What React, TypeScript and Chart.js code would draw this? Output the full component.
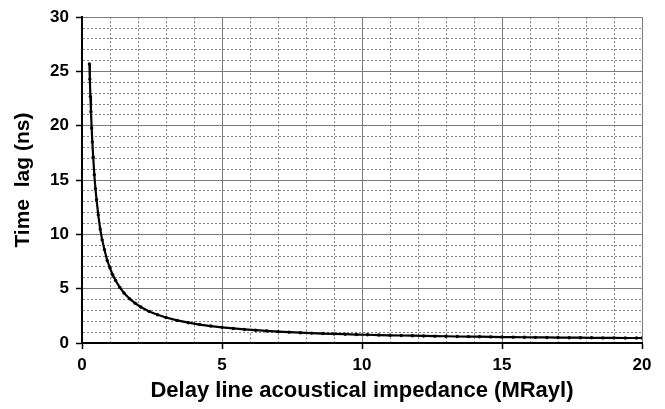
import React, { useEffect, useRef } from "react";
import { Chart, registerables } from "chart.js";

Chart.register(...registerables);

const impedance: number[] = [
  0.265, 0.28, 0.3, 0.32, 0.345, 0.37, 0.4, 0.44, 0.48, 0.52, 0.58, 0.65, 0.72, 0.8, 0.9,
  1.0, 1.1, 1.2, 1.35, 1.5, 1.7, 1.9, 2.1, 2.4, 2.7, 3.0, 3.4, 3.8, 4.2, 4.6, 5.0, 5.4,
  5.8, 6.2, 6.6, 7.0, 7.4, 7.8, 8.2, 8.6, 9.0, 9.4, 9.8, 10.2, 10.6, 11.0, 11.4, 11.8,
  12.2, 12.6, 13.0, 13.4, 13.8, 14.2, 14.6, 15.0, 15.4, 15.8, 16.2, 16.6, 17.0, 17.4,
  17.8, 18.2, 18.6, 19.0, 19.4, 19.8, 20.0,
];
const timeLag: number[] = [
  25.7, 24.3, 22.7, 21.3, 19.8, 18.5, 17.1, 15.5, 14.2, 13.2, 11.8, 10.5, 9.5, 8.6, 7.6,
  6.9, 6.26, 5.75, 5.12, 4.61, 4.08, 3.66, 3.32, 2.91, 2.6, 2.35, 2.08, 1.87, 1.7, 1.56,
  1.44, 1.34, 1.25, 1.18, 1.11, 1.05, 1.0, 0.95, 0.91, 0.87, 0.84, 0.81, 0.78, 0.76,
  0.73, 0.71, 0.69, 0.67, 0.65, 0.63, 0.62, 0.6, 0.59, 0.58, 0.56, 0.55, 0.54, 0.53,
  0.52, 0.51, 0.5, 0.49, 0.49, 0.48, 0.47, 0.47, 0.46, 0.46, 0.46,
];

const xTitle = "Delay line acoustical impedance (MRayl)";
const yTitle = "Time  lag (ns)";
const xMin = 0, xMax = 20, yMin = 0, yMax = 30;
const majorStep = 5;

const FONT = "'Liberation Sans', Arial, Helvetica, sans-serif";

export default function App() {
  const ref = useRef<HTMLCanvasElement | null>(null);
  useEffect(() => {
    document.body.style.margin = "0";
    const canvas = ref.current;
    if (!canvas) return;
    const isMajor = (v: number) => Math.abs(v / majorStep - Math.round(v / majorStep)) < 1e-6;
    const gridColor = (ctx: any) => (isMajor(ctx.tick?.value ?? 0) ? "#7a7a7a" : "#7f7f7f");
    const gridDash = (ctx: any) => (isMajor(ctx.tick?.value ?? 0) ? [] : [2, 2]);
    const tickColor = (ctx: any) => (isMajor(ctx.tick?.value ?? 0) ? "#000" : "rgba(0,0,0,0)");
    const chart = new Chart(canvas, {
      type: "line",
      data: {
        datasets: [
          {
            data: impedance.map((x, i) => ({ x, y: timeLag[i] })),
            borderColor: "#000",
            backgroundColor: "#000",
            borderWidth: 2.2,
            pointRadius: 1.7,
            pointBorderWidth: 0,
            pointBackgroundColor: "#000",
            tension: 0,
            fill: false,
          },
        ],
      },
      options: {
        animation: false,
        responsive: false,
        maintainAspectRatio: false,
        layout: { padding: { left: 0, top: 17, right: 23, bottom: 0 } },
        plugins: { legend: { display: false }, tooltip: { enabled: false } },
        scales: {
          x: {
            type: "linear",
            min: xMin,
            max: xMax,
            afterFit: (s: any) => {
              s.height = 66;
            },
            ticks: {
              stepSize: 1,
              autoSkip: false,
              maxRotation: 0,
              color: "#000",
              padding: 6,
              font: { family: FONT, size: 17, weight: "bold" },
              callback: (v: any) => (isMajor(Number(v)) ? String(v) : ""),
            },
            grid: {
              color: gridColor,
              lineWidth: 1,
              drawTicks: true,
              tickLength: 6,
              tickColor: tickColor,
              tickWidth: 1.5,
            },
            border: { display: true, color: "#000", width: 2, dash: gridDash },
            title: {
              display: true,
              text: xTitle,
              color: "#000",
              font: { family: FONT, size: 22, weight: "bold" },
              padding: { top: 5, bottom: 5 },
            },
          },
          y: {
            type: "linear",
            min: yMin,
            max: yMax,
            afterFit: (s: any) => {
              s.width = 82;
            },
            ticks: {
              stepSize: 1,
              autoSkip: false,
              color: "#000",
              padding: 7,
              font: { family: FONT, size: 17, weight: "bold" },
              callback: (v: any) => (isMajor(Number(v)) ? String(v) : ""),
            },
            grid: {
              color: gridColor,
              lineWidth: 1,
              drawTicks: true,
              tickLength: 6,
              tickColor: tickColor,
              tickWidth: 1.5,
            },
            border: { display: true, color: "#000", width: 2, dash: gridDash },
            title: {
              display: true,
              text: yTitle,
              color: "#000",
              font: { family: FONT, size: 21, weight: "bold" },
              padding: { top: 11, bottom: 11 },
            },
          },
        },
      },
    } as any);
    return () => chart.destroy();
  }, []);
  return (
    <div style={{ position: "relative", width: 665, height: 409, background: "#fff" }}>
      <canvas ref={ref} width={665} height={409} style={{ width: 665, height: 409 }} />
    </div>
  );
}
